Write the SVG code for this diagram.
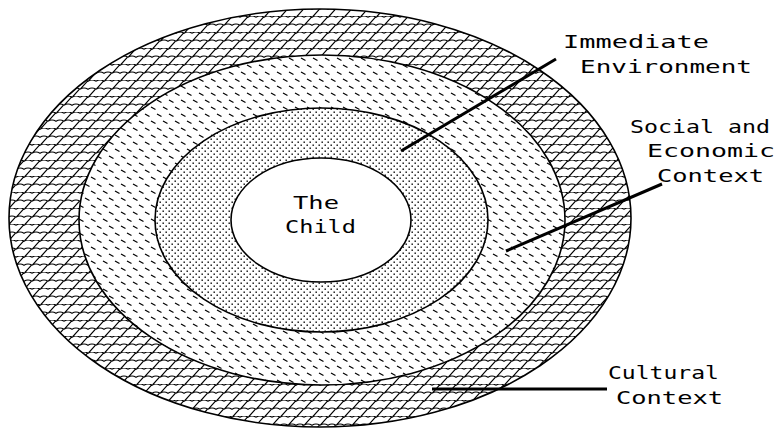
<svg xmlns="http://www.w3.org/2000/svg" width="776" height="429" viewBox="0 0 776 429">
<style>
.ring{stroke:#000;stroke-width:1.6}
.lbl{font-family:"DejaVu Sans Mono","Liberation Mono",monospace;font-size:17px;fill:#000}
.conn{stroke:#000;stroke-width:3;stroke-linecap:butt;fill:none}
</style>
<defs>
<pattern id="pBrick" patternUnits="userSpaceOnUse" width="16" height="16">
<rect width="16" height="16" fill="#fff"/>
<path d="M0,1.2 Q4,-1.2 8,1.2 Q12,-1.2 16,1.2 M0,9.2 Q4,6.8 8,9.2 Q12,6.8 16,9.2 M0.5,8.9 L7.5,1.2 M8.5,16.9 L15.5,9.2" stroke="#000" stroke-width="1.2" fill="none"/>
</pattern>
<pattern id="pDash" patternUnits="userSpaceOnUse" width="12" height="14">
<rect width="12" height="14" fill="#fff"/>
<path d="M1,2 L5.5,4.5 M7,9 L11.5,11.5" stroke="#000" stroke-width="1.2" fill="none"/>
</pattern>
<pattern id="pDot" patternUnits="userSpaceOnUse" width="6" height="6">
<rect width="6" height="6" fill="#fff"/>
<rect x="0.5" y="0.5" width="1.4" height="1.4" fill="#000"/>
<rect x="3.5" y="3.5" width="1.4" height="1.4" fill="#000"/>
</pattern>
</defs>
<g id="cultural-context">
<ellipse class="ring" cx="320" cy="218" rx="311" ry="209" fill="url(#pBrick)"/>
</g>
<g id="social-economic-context">
<ellipse class="ring" cx="322" cy="220" rx="243" ry="165" fill="url(#pDash)"/>
</g>
<g id="immediate-environment">
<ellipse class="ring" cx="321.5" cy="220" rx="166.5" ry="112" fill="url(#pDot)"/>
</g>
<g id="the-child">
<ellipse class="ring" cx="321" cy="220" rx="90" ry="62" fill="#fff"/>
<text class="lbl" x="293" y="209" textLength="46" lengthAdjust="spacingAndGlyphs">The</text>
<text class="lbl" x="285" y="233" textLength="71" lengthAdjust="spacingAndGlyphs">Child</text>
</g>
<g id="connectors">
<line class="conn" x1="401" y1="151" x2="556" y2="59"/>
<line class="conn" x1="506" y1="251" x2="662" y2="184"/>
<line class="conn" x1="432" y1="389" x2="607" y2="389"/>
</g>
<g id="labels">
<text class="lbl" x="563" y="48" textLength="146" lengthAdjust="spacingAndGlyphs">Immediate</text>
<text class="lbl" x="580" y="73" textLength="172" lengthAdjust="spacingAndGlyphs">Environment</text>
<text class="lbl" x="630" y="133" textLength="140" lengthAdjust="spacingAndGlyphs">Social and</text>
<text class="lbl" x="647" y="157" textLength="128" lengthAdjust="spacingAndGlyphs">Economic</text>
<text class="lbl" x="657" y="182" textLength="107" lengthAdjust="spacingAndGlyphs">Context</text>
<text class="lbl" x="608" y="379" textLength="111" lengthAdjust="spacingAndGlyphs">Cultural</text>
<text class="lbl" x="616" y="404" textLength="107" lengthAdjust="spacingAndGlyphs">Context</text>
</g>
</svg>
